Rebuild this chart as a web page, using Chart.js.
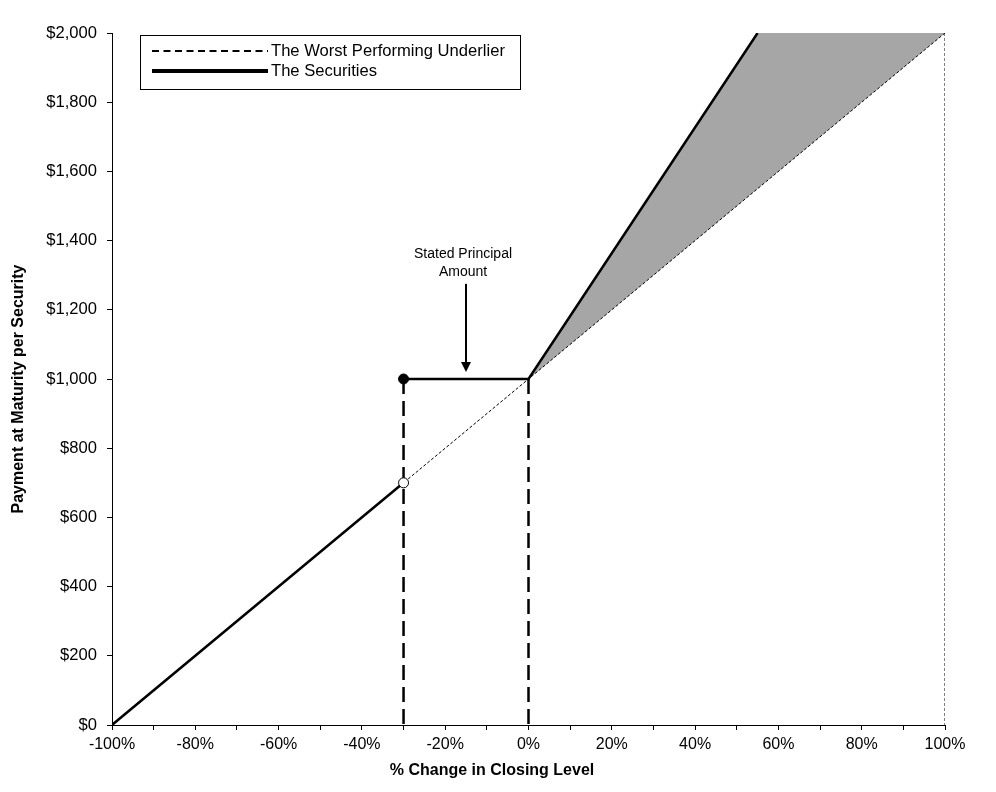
<!DOCTYPE html>
<html>
<head>
<meta charset="utf-8">
<title>Payment at Maturity per Security</title>
<script src="https://cdn.jsdelivr.net/npm/chart.js@4.4.1/dist/chart.umd.min.js"></script>
<style>
  html, body { margin: 0; padding: 0; background: #fff; }
  #wrap { width: 996px; height: 792px; }
</style>
</head>
<body>
<div id="wrap"><canvas id="payoffChart"></canvas></div>
<script>
// values ([% change, payment])
const underlier = [[-100, 0], [100, 2000]];
const securitiesDown = [[-100, 0], [-30, 700]];
const securitiesUp = [[-30, 1000], [0, 1000], [55, 2000]];
const upsideArea = [[0, 1000], [55, 2000], [100, 2000]];
const barrierDrop = [[-30, 1000], [-30, 0]];
const initialDrop = [[0, 1000], [0, 0]];
const rightEdge = [[100, 2000], [100, 0]];
const principalDot = [[-30, 1000]];
const barrierDot = [[-30, 700]];

// axes
const xRange = [-100, 100];
const yRange = [0, 2000];
const xTickStep = 10;
const xLabelStep = 20;
const yTickStep = 200;

// texts
const legendLabels = ['The Worst Performing Underlier', 'The Securities'];
const xTitle = '% Change in Closing Level';
const yTitle = 'Payment at Maturity per Security';
const noteLines = ['Stated Principal', 'Amount'];
const noteArrow = [[-15, 1275], [-15, 1020]];

const FONT = 'Arial, "Liberation Sans", sans-serif';

const pts = arr => arr.map(p => ({ x: p[0], y: p[1] }));

// legend, annotation and axis titles
const extras = {
  id: 'extras',
  afterDraw(chart) {
    const ctx = chart.ctx;
    const xs = chart.scales.x;
    const ys = chart.scales.y;
    ctx.save();

    // legend box
    ctx.strokeStyle = '#000';
    ctx.lineWidth = 1;
    ctx.strokeRect(140.5, 35.5, 380, 54);
    ctx.beginPath();
    ctx.setLineDash([7, 4.5]);
    ctx.lineWidth = 2;
    ctx.moveTo(152, 51);
    ctx.lineTo(268, 51);
    ctx.stroke();
    ctx.beginPath();
    ctx.setLineDash([]);
    ctx.lineWidth = 4;
    ctx.moveTo(152, 71);
    ctx.lineTo(268, 71);
    ctx.stroke();
    ctx.fillStyle = '#000';
    ctx.font = '16.6px ' + FONT;
    ctx.textBaseline = 'middle';
    ctx.textAlign = 'left';
    ctx.fillText(legendLabels[0], 271, 51);
    ctx.fillText(legendLabels[1], 271, 71);

    // stated principal note with arrow
    const ax = xs.getPixelForValue(noteArrow[0][0]);
    const ay0 = ys.getPixelForValue(noteArrow[0][1]);
    const ay1 = ys.getPixelForValue(noteArrow[1][1]);
    ctx.lineWidth = 2;
    ctx.beginPath();
    ctx.moveTo(ax, ay0);
    ctx.lineTo(ax, ay1 - 9);
    ctx.stroke();
    ctx.beginPath();
    ctx.moveTo(ax - 5, ay1 - 10);
    ctx.lineTo(ax + 5, ay1 - 10);
    ctx.lineTo(ax, ay1);
    ctx.closePath();
    ctx.fill();
    ctx.font = '14px ' + FONT;
    ctx.textAlign = 'center';
    ctx.fillText(noteLines[0], ax - 3, ay0 - 30);
    ctx.fillText(noteLines[1], ax - 3, ay0 - 12);

    // axis titles
    ctx.font = 'bold 16px ' + FONT;
    ctx.fillText(xTitle, 492, 771);
    ctx.translate(19, 389);
    ctx.rotate(-Math.PI / 2);
    ctx.fillText(yTitle, 0, 0);
    ctx.restore();
  }
};

const lineBase = { showLine: true, pointRadius: 0, borderColor: '#000', fill: false, tension: 0 };

new Chart(document.getElementById('payoffChart'), {
  type: 'scatter',
  data: {
    datasets: [
      { ...lineBase, label: 'principal', data: pts(principalDot), showLine: false,
        pointRadius: 5, pointBackgroundColor: '#000', pointBorderColor: '#000', order: 0 },
      { ...lineBase, label: 'barrier', data: pts(barrierDot), showLine: false,
        pointRadius: 5, pointBackgroundColor: '#fff', pointBorderColor: '#000', pointBorderWidth: 1, order: 0 },
      { ...lineBase, label: legendLabels[1] + ' down', data: pts(securitiesDown), borderWidth: 2.5, order: 1 },
      { ...lineBase, label: legendLabels[1], data: pts(securitiesUp), borderWidth: 2.5, order: 1 },
      { ...lineBase, label: 'barrier level', data: pts(barrierDrop), borderWidth: 2.5, borderDash: [15, 7], order: 2 },
      { ...lineBase, label: 'initial level', data: pts(initialDrop), borderWidth: 2.5, borderDash: [15, 7], order: 2 },
      { ...lineBase, label: 'edge', data: pts(rightEdge), borderWidth: 1, borderDash: [3, 2], order: 3 },
      { ...lineBase, label: legendLabels[0], data: pts(underlier), borderWidth: 1, borderDash: [3, 2], order: 3 },
      { ...lineBase, label: 'upside', data: pts(upsideArea), borderWidth: 0, borderColor: 'rgba(0,0,0,0)',
        backgroundColor: '#a6a6a6', fill: { target: 7 }, order: 4 }
    ]
  },
  options: {
    responsive: true,
    maintainAspectRatio: false,
    animation: false,
    layout: { padding: { top: 33, right: 51, left: 0, bottom: 0 } },
    plugins: {
      legend: { display: false },
      tooltip: { enabled: false }
    },
    scales: {
      x: {
        type: 'linear',
        min: xRange[0],
        max: xRange[1],
        afterFit: s => { s.height = 67; },
        border: { color: '#000', width: 1 },
        grid: { drawOnChartArea: false, drawTicks: true, tickLength: 5, color: '#000' },
        ticks: {
          stepSize: xTickStep,
          padding: 5,
          color: '#000',
          font: { family: FONT, size: 16 },
          maxRotation: 0,
          autoSkip: false,
          callback: v => (v % xLabelStep === 0 ? v + '%' : '')
        }
      },
      y: {
        type: 'linear',
        min: yRange[0],
        max: yRange[1],
        afterFit: s => { s.width = 112; },
        border: { color: '#000', width: 1 },
        grid: { drawOnChartArea: false, drawTicks: true, tickLength: 5, color: '#000' },
        ticks: {
          stepSize: yTickStep,
          padding: 10,
          color: '#000',
          font: { family: FONT, size: 16.6 },
          callback: v => '$' + v.toLocaleString('en-US')
        }
      }
    }
  },
  plugins: [extras]
});
</script>
</body>
</html>
